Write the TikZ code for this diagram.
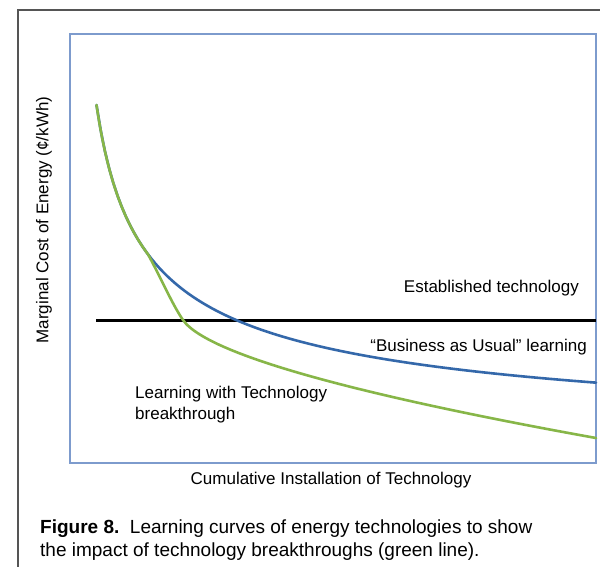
\documentclass[tikz,border=0pt]{standalone}
\usepackage{fontspec}
\setmainfont{Liberation Sans}
\usepackage{tikz}

\definecolor{curvegreen}{RGB}{135,182,72}
\definecolor{curveblue}{RGB}{52,104,170}
\definecolor{plotframe}{RGB}{125,155,205}
\definecolor{outerframe}{RGB}{85,85,85}

\begin{document}
\begin{tikzpicture}[x=1pt, y=-1pt,
    lbl/.style={font=\fontsize{17}{21}\selectfont, inner sep=0pt},
    capt/.style={font=\fontsize{19}{23}\selectfont, inner sep=0pt, align=left, anchor=north west},
    learncurve/.style={line width=2.6pt, line cap=round, line join=round}]

    \useasboundingbox (0,0) rectangle (600,567);

    % Draw the outer frame
    \draw[outerframe, line width=1.5pt] (18,567) -- (18,10) -- (600,10);

    % Draw the plot area
    \draw[plotframe, line width=1.3pt, fill=white] (70,34) rectangle (596,463);

    % Established technology
    \draw[line width=3pt] (96,320) -- (596,320);

    % Business as usual learning
    \draw[learncurve, curveblue] plot[domain=96.5:596, samples=120]
        (\x, {463-1843/sqrt(\x-70)});

    % Learning with technology breakthrough
    \draw[learncurve, curvegreen] plot[domain=96.5:148, samples=40]
        (\x, {463-1843/sqrt(\x-70)})
        .. controls (160,276) and (172,304) .. (183,320)
        .. controls (210,359) and (396,402) .. (596,438);

    % Labels for the curves
    \node[lbl, anchor=east] (established) at (579,288) {Established technology};
    \node[lbl, anchor=east] (bau) at (587,347) {``Business as Usual'' learning};
    \node[lbl, anchor=west, align=left] (breakthrough) at (135,405)
        {Learning with Technology\\breakthrough};

    % Axis labels
    \node[lbl, rotate=90] (ylabel) at (44,220) {Marginal Cost of Energy (¢/kWh)};
    \node[lbl] (xlabel) at (331,480) {Cumulative Installation of Technology};

    % Figure caption
    \node[capt] (caption) at (40,520)
        {\textbf{Figure 8.}\ \ Learning curves of energy technologies to show\\
         the impact of technology breakthroughs (green line).};

\end{tikzpicture}
\end{document}
